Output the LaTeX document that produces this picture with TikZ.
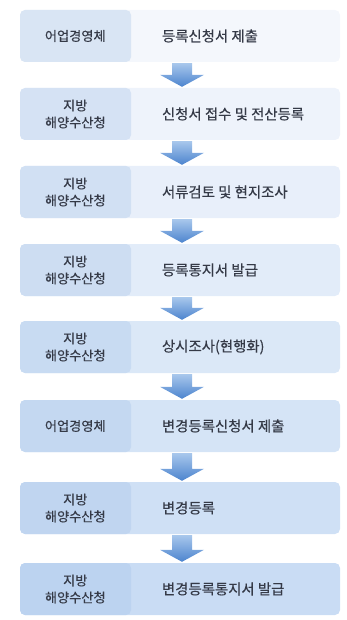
\documentclass[tikz,border=0pt]{standalone}
\usepackage{fontspec}
\setmainfont{Noto Sans CJK KR}[FakeBold=0.3]
\usetikzlibrary{calc,positioning}
\definecolor{textgray}{HTML}{353A47}
\definecolor{taskpale}{HTML}{F4F7FC}
\definecolor{taskdeep}{HTML}{C9DCF4}
\definecolor{whopale}{HTML}{D9E5F4}
\definecolor{whodeep}{HTML}{BCD3F0}
\definecolor{arrowtop}{HTML}{A8C7EC}
\definecolor{arrowbottom}{HTML}{4C84CE}
% block arrow from one row to the next
\newcommand{\steparrow}[2]{%
  \shade[arrowfill] ($(#1.south)+(-8,1)$) -- ($(#1.south)+(12,1)$)
    -- ($(#2.north)+(12,-13)$) -- ($(#2.north)+(24,-13)$)
    -- ($(#2.north)+(2,-1)$) -- ($(#2.north)+(-20,-13)$)
    -- ($(#2.north)+(-8,-13)$) -- cycle;}

\begin{document}
\begin{tikzpicture}[
  x=1pt, y=-1pt,
  rowbox/.style={minimum width=320pt, minimum height=52pt, inner sep=0pt,
    rounded corners=5pt, fill=taskdeep!#1!taskpale,
    path picture={\fill[whodeep!#1!whopale] (path picture bounding box.north west)
      rectangle ([xshift=111pt]path picture bounding box.south west);}},
  who/.style={font=\fontsize{13.2}{17}\selectfont, text=textgray, align=center, inner sep=0pt},
  task/.style={font=\fontsize{14.4}{17}\selectfont, text=textgray, anchor=west, inner sep=0pt},
  arrowfill/.style={top color=arrowtop, bottom color=arrowbottom},
]
  \useasboundingbox (0,0) rectangle (346,620);

  \node[rowbox=0] (row1) at (180,36) {};
  \node[rowbox=14] (row2) at (180,114) {};
  \node[rowbox=28] (row3) at (180,192) {};
  \node[rowbox=42] (row4) at (180,270) {};
  \node[rowbox=57] (row5) at (180,347) {};
  \node[rowbox=72] (row6) at (180,426) {};
  \node[rowbox=86] (row7) at (180,508) {};
  \node[rowbox=100] (row8) at (180,589) {};

  \node[who] (who1) at ([xshift=55.5pt]row1.west) {어업경영체};
  \node[who] (who2) at ([xshift=55.5pt]row2.west) {지방\\해양수산청};
  \node[who] (who3) at ([xshift=55.5pt]row3.west) {지방\\해양수산청};
  \node[who] (who4) at ([xshift=55.5pt]row4.west) {지방\\해양수산청};
  \node[who] (who5) at ([xshift=55.5pt]row5.west) {지방\\해양수산청};
  \node[who] (who6) at ([xshift=55.5pt]row6.west) {어업경영체};
  \node[who] (who7) at ([xshift=55.5pt]row7.west) {지방\\해양수산청};
  \node[who] (who8) at ([xshift=55.5pt]row8.west) {지방\\해양수산청};

  \node[task] (task1) at ([xshift=142pt]row1.west) {등록신청서 제출};
  \node[task] (task2) at ([xshift=142pt]row2.west) {신청서 접수 및 전산등록};
  \node[task] (task3) at ([xshift=142pt]row3.west) {서류검토 및 현지조사};
  \node[task] (task4) at ([xshift=142pt]row4.west) {등록통지서 발급};
  \node[task] (task5) at ([xshift=142pt]row5.west) {상시조사(현행화)};
  \node[task] (task6) at ([xshift=142pt]row6.west) {변경등록신청서 제출};
  \node[task] (task7) at ([xshift=142pt]row7.west) {변경등록};
  \node[task] (task8) at ([xshift=142pt]row8.west) {변경등록통지서 발급};

  \steparrow{row1}{row2}
  \steparrow{row2}{row3}
  \steparrow{row3}{row4}
  \steparrow{row4}{row5}
  \steparrow{row5}{row6}
  \steparrow{row6}{row7}
  \steparrow{row7}{row8}
\end{tikzpicture}
\end{document}
